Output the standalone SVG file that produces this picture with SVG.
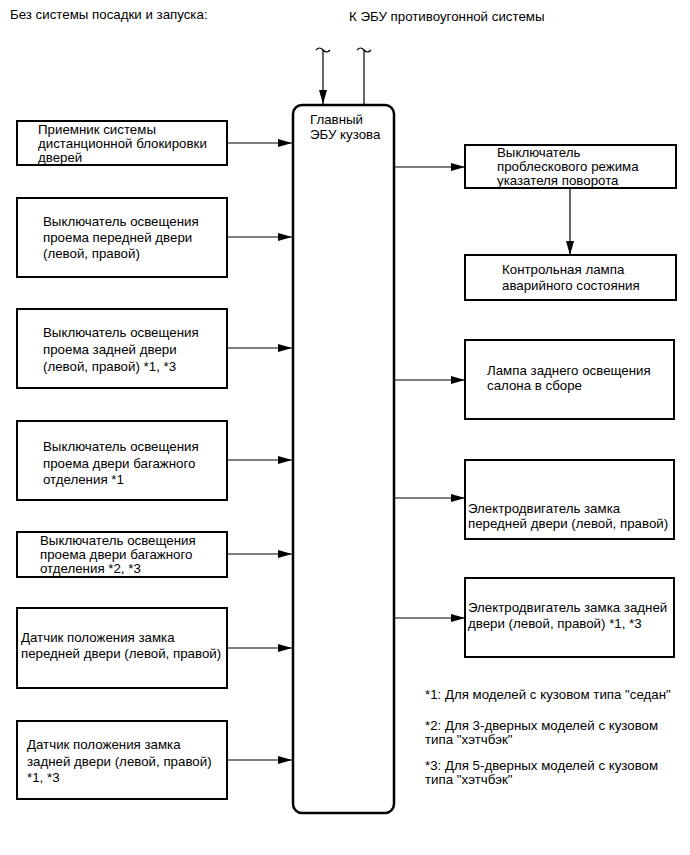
<svg xmlns="http://www.w3.org/2000/svg" width="690" height="855" viewBox="0 0 690 855">
<style>
text{font-family:"Liberation Sans",Arial,sans-serif;font-size:13.3px;fill:#000}
.box{fill:#fff;stroke:#000;stroke-width:2}
.ecu{fill:#fff;stroke:#000;stroke-width:2.5}
.c{fill:none;stroke:#000;stroke-width:1.2}
</style>
<defs>
<marker id="ah" viewBox="0 0 14 8" refX="14" refY="4" markerWidth="14" markerHeight="8" markerUnits="userSpaceOnUse" orient="auto">
<path d="M0,0 L14,4 L0,8 Z" fill="#000"/>
</marker>
</defs>
<text x="10" y="19">Без системы посадки и запуска:</text>
<text x="349" y="21">К ЭБУ противоугонной системы</text>

<g id="ecu">
<rect class="ecu" x="293" y="105" width="101" height="708" rx="9"/>
<text x="310" y="124">Главный</text>
<text x="310" y="139">ЭБУ кузова</text>
</g>

<g id="connectors">
<path class="c" d="M316,50 q3.5,-4 7,0 q3.5,4 7,0"/>
<path class="c" d="M357,50 q3.5,-4 7,0 q3.5,4 7,0"/>
<line class="c" x1="323" y1="50" x2="323" y2="104" marker-end="url(#ah)"/>
<line class="c" x1="364" y1="50" x2="364" y2="104"/>
<line class="c" x1="227" y1="143" x2="292" y2="143" marker-end="url(#ah)"/>
<line class="c" x1="227" y1="237" x2="292" y2="237" marker-end="url(#ah)"/>
<line class="c" x1="227" y1="348" x2="292" y2="348" marker-end="url(#ah)"/>
<line class="c" x1="227" y1="460" x2="292" y2="460" marker-end="url(#ah)"/>
<line class="c" x1="227" y1="554" x2="292" y2="554" marker-end="url(#ah)"/>
<line class="c" x1="227" y1="648" x2="292" y2="648" marker-end="url(#ah)"/>
<line class="c" x1="227" y1="760" x2="292" y2="760" marker-end="url(#ah)"/>
<line class="c" x1="394" y1="167" x2="465" y2="167" marker-end="url(#ah)"/>
<line class="c" x1="570" y1="188" x2="570" y2="255" marker-end="url(#ah)"/>
<line class="c" x1="394" y1="380" x2="465" y2="380" marker-end="url(#ah)"/>
<line class="c" x1="394" y1="498" x2="465" y2="498" marker-end="url(#ah)"/>
<line class="c" x1="394" y1="618" x2="465" y2="618" marker-end="url(#ah)"/>
</g>

<g id="n1">
<rect class="box" x="17" y="121" width="210" height="44"/>
<text x="38" y="134">Приемник системы</text>
<text x="38" y="148">дистанционной блокировки</text>
<text x="38" y="162">дверей</text>
</g>
<g id="n2">
<rect class="box" x="17" y="198" width="210" height="79"/>
<text x="43" y="226">Выключатель освещения</text>
<text x="43" y="242">проема передней двери</text>
<text x="43" y="258">(левой, правой)</text>
</g>
<g id="n3">
<rect class="box" x="17" y="309" width="210" height="79"/>
<text x="43" y="337">Выключатель освещения</text>
<text x="43" y="354">проема задней двери</text>
<text x="43" y="371">(левой, правой) *1, *3</text>
</g>
<g id="n4">
<rect class="box" x="17" y="421" width="210" height="79"/>
<text x="43" y="451">Выключатель освещения</text>
<text x="43" y="468">проема двери багажного</text>
<text x="43" y="484">отделения *1</text>
</g>
<g id="n5">
<rect class="box" x="17" y="532" width="210" height="45"/>
<text x="40" y="545">Выключатель освещения</text>
<text x="40" y="559">проема двери багажного</text>
<text x="40" y="573">отделения *2, *3</text>
</g>
<g id="n6">
<rect class="box" x="17" y="608" width="210" height="80"/>
<text x="21" y="642">Датчик положения замка</text>
<text x="21" y="658">передней двери (левой, правой)</text>
</g>
<g id="n7">
<rect class="box" x="17" y="721" width="210" height="78"/>
<text x="27" y="749">Датчик положения замка</text>
<text x="27" y="766">задней двери (левой, правой)</text>
<text x="27" y="782">*1, *3</text>
</g>

<g id="r1">
<rect class="box" x="465" y="145" width="211" height="43"/>
<text x="497" y="157">Выключатель</text>
<text x="497" y="171">проблескового режима</text>
<text x="497" y="185">указателя поворота</text>
</g>
<g id="r2">
<rect class="box" x="465" y="255" width="211" height="45"/>
<text x="502" y="274">Контрольная лампа</text>
<text x="502" y="290">аварийного состояния</text>
</g>
<g id="r3">
<rect class="box" x="465" y="340" width="209" height="79"/>
<text x="487" y="375">Лампа заднего освещения</text>
<text x="487" y="390">салона в сборе</text>
</g>
<g id="r4">
<rect class="box" x="465" y="460" width="209" height="79"/>
<text x="468" y="513">Электродвигатель замка</text>
<text x="468" y="528">передней двери (левой, правой)</text>
</g>
<g id="r5">
<rect class="box" x="465" y="578" width="209" height="79"/>
<text x="468" y="612">Электродвигатель замка задней</text>
<text x="468" y="628">двери (левой, правой) *1, *3</text>
</g>

<g id="notes">
<text x="425" y="699">*1: Для моделей с кузовом типа "седан"</text>
<text x="425" y="730">*2: Для 3-дверных моделей с кузовом</text>
<text x="425" y="744">типа "хэтчбэк"</text>
<text x="425" y="770">*3: Для 5-дверных моделей с кузовом</text>
<text x="425" y="784">типа "хэтчбэк"</text>
</g>
</svg>
